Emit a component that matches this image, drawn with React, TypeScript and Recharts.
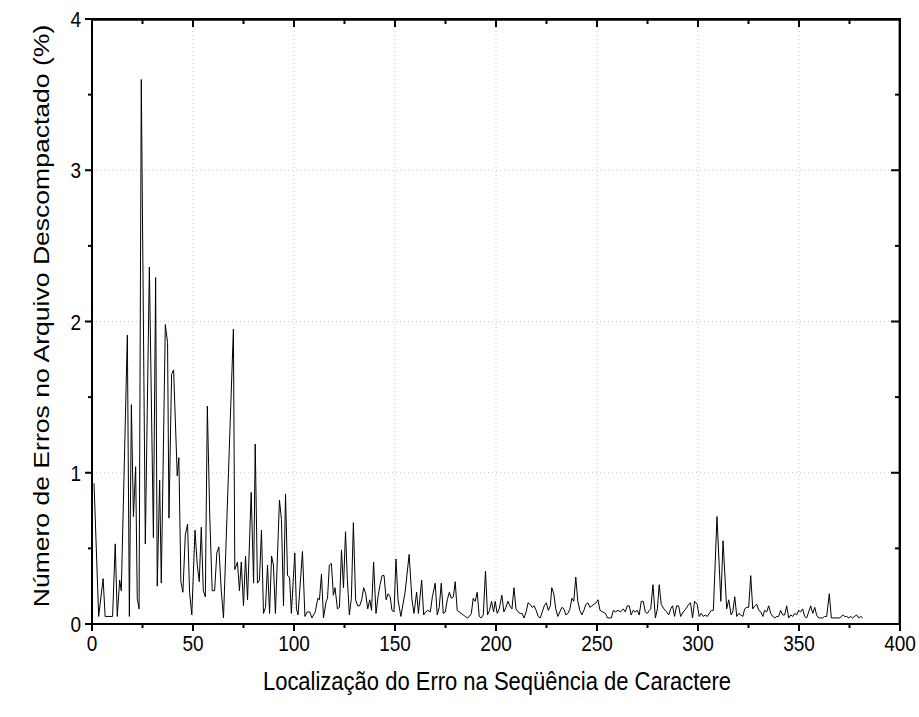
import { CartesianGrid, Line, LineChart, ReferenceLine, XAxis, YAxis } from 'recharts';

const FONT = '"Liberation Sans", Arial, sans-serif';
const STRETCH = 1.16; // the reference glyphs are taller than they are wide

const X_TICKS = [0, 25, 50, 75, 100, 125, 150, 175, 200, 225, 250, 275, 300, 325, 350, 375, 400];
const Y_TICKS = [0, 0.5, 1, 1.5, 2, 2.5, 3, 3.5, 4];
const GRID_X = [50, 100, 150, 200, 250, 300, 350];
const GRID_Y = [1, 2, 3];
const FRAME_X = [400];
const FRAME_Y = [4];

// [posição do erro, % de erros]
const SEG_0_50: [number, number][] = [
  [1, 0.93], [3.3, 0.05], [5.5, 0.3], [6.5, 0.05], [10.2, 0.05], [11.5, 0.53], [12.5, 0.05],
  [13.7, 0.29], [14.5, 0.22], [17.5, 1.91], [18.5, 0.05], [19.5, 1.45], [20.5, 0.71], [21.6, 1.04],
  [22.4, 0.17], [23.3, 0.1], [24.4, 3.6], [26.4, 0.53], [28.4, 2.36], [30.4, 0.57], [31.5, 2.29],
  [32.3, 0.25], [33.5, 0.95], [34.3, 0.27], [36.3, 1.98], [37.4, 1.86], [38.1, 0.7], [39.4, 1.65],
  [40.4, 1.68], [42.2, 0.98], [43, 1.1], [44, 0.28], [45, 0.21], [46.2, 0.59], [47.3, 0.66],
  [48.3, 0.21], [49.4, 0.06],
];

const SEG_50_100: [number, number][] = [
  [51, 0.62], [52.1, 0.39], [53.1, 0.28], [54.1, 0.64], [55.1, 0.22], [56.1, 0.18], [57.1, 1.44],
  [58.3, 0.71], [59.5, 0.22], [60.7, 0.22], [61.8, 0.47], [62.8, 0.51], [64, 0.22], [65.1, 0.04],
  [70, 1.95], [70.7, 0.36], [72, 0.41], [73, 0.22], [73.9, 0.41], [75, 0.12], [76, 0.45],
  [77, 0.16], [78.8, 0.87], [80, 0.27], [80.8, 1.19], [81.9, 0.27], [82.9, 0.29], [83.9, 0.62],
  [84.9, 0.07], [85.9, 0.11], [86.9, 0.39], [87.9, 0.07], [88.9, 0.45], [89.8, 0.39], [90.8, 0.07],
  [92.8, 0.82], [93.8, 0.69], [94.8, 0.12], [95.8, 0.86], [96.8, 0.32], [97.8, 0.31], [98.7, 0.07],
];

const SEG_100_150: [number, number][] = [
  [100.4, 0.47], [101.2, 0.1], [102, 0.06], [104.2, 0.48], [105.4, 0.05], [106.5, 0.08],
  [107.8, 0.08], [108.9, 0.04], [110.5, 0.08], [111.8, 0.17], [112.6, 0.16], [113.6, 0.33],
  [114.6, 0.04], [115.9, 0.15], [116.6, 0.17], [117.5, 0.39], [118.5, 0.4], [119.5, 0.19],
  [120.3, 0.24], [121.5, 0.1], [122.5, 0.11], [123.5, 0.49], [124.5, 0.24], [125.5, 0.61],
  [126.4, 0.3], [127.4, 0.06], [128.4, 0.17], [129.4, 0.67], [130.5, 0.16], [131.5, 0.12],
  [132.5, 0.12], [133.5, 0.16], [134.5, 0.24], [135.5, 0.2], [136.5, 0.1], [137.5, 0.16],
  [138.4, 0.09], [139.4, 0.41], [140.6, 0.07], [141.6, 0.18], [142.6, 0.26], [143.6, 0.32],
  [144.6, 0.32], [145.6, 0.16], [146.6, 0.2], [147.6, 0.18], [148.5, 0.09], [149.5, 0.08],
];

const SEG_150_200: [number, number][] = [
  [150.5, 0.43], [151.5, 0.16], [152.9, 0.05], [155, 0.21], [157, 0.46], [158.4, 0.16],
  [159.4, 0.07], [160.7, 0.21], [161.6, 0.07], [163.2, 0.29], [164.2, 0.06], [165.2, 0.08],
  [166.2, 0.09], [167.5, 0.08], [168.5, 0.18], [169.9, 0.27], [170.9, 0.06], [171.9, 0.11],
  [172.9, 0.27], [173.9, 0.07], [174.9, 0.08], [175.9, 0.16], [176.9, 0.21], [177.9, 0.17],
  [178.9, 0.18], [179.8, 0.28], [180.8, 0.09], [181.8, 0.08], [182.8, 0.07], [183.8, 0.06],
  [184.8, 0.05], [185.8, 0.04], [186.8, 0.05], [187.8, 0.07], [188.7, 0.17], [189.7, 0.15],
  [190.7, 0.21], [191.7, 0.05], [192.7, 0.04], [193.7, 0.06], [194.8, 0.35], [195.8, 0.06],
  [196.8, 0.09], [197.8, 0.15], [198.8, 0.08],
];

const SEG_200_250: [number, number][] = [
  [199.6, 0.15], [200.6, 0.07], [201.6, 0.1], [202.9, 0.19], [203.9, 0.08], [204.9, 0.11],
  [205.9, 0.15], [206.9, 0.12], [207.9, 0.1], [208.9, 0.24], [209.9, 0.1], [210.9, 0.08],
  [211.9, 0.07], [212.9, 0.07], [213.9, 0.04], [214.9, 0.08], [215.9, 0.14], [216.9, 0.13],
  [217.9, 0.11], [218.9, 0.12], [219.9, 0.09], [220.9, 0.05], [221.9, 0.04], [222.9, 0.08],
  [223.9, 0.12], [224.9, 0.14], [225.9, 0.09], [226.9, 0.12], [227.6, 0.24], [228.6, 0.2],
  [229.6, 0.1], [230.6, 0.05], [231.6, 0.08], [232.6, 0.11], [233.6, 0.1], [234.6, 0.06],
  [235.6, 0.07], [236.6, 0.1], [237.6, 0.17], [238.5, 0.15], [239.5, 0.31], [240.5, 0.15],
  [241.5, 0.09], [242.5, 0.06], [243.5, 0.09], [244.5, 0.13], [245.5, 0.14], [246.5, 0.11],
  [247.5, 0.12], [248.5, 0.13], [249.5, 0.14], [250.5, 0.16],
];

const SEG_250_307: [number, number][] = [
  [251.5, 0.09], [252.8, 0.08], [254.2, 0.07], [255.2, 0.04], [257.1, 0.04], [258.1, 0.09],
  [259.1, 0.08], [260.4, 0.09], [261.7, 0.08], [263, 0.1], [264, 0.08], [265, 0.12], [266, 0.12],
  [266.9, 0.06], [267.9, 0.09], [268.9, 0.08], [269.9, 0.09], [270.9, 0.06], [271.9, 0.15],
  [272.9, 0.15], [273.9, 0.08], [274.9, 0.07], [275.9, 0.09], [276.6, 0.1], [277.7, 0.26],
  [278.9, 0.04], [279.9, 0.1], [280.8, 0.26], [281.8, 0.13], [283.1, 0.1], [284.5, 0.08],
  [285.5, 0.06], [286.5, 0.1], [287.4, 0.12], [288.4, 0.05], [289.4, 0.12], [290.4, 0.12],
  [291.4, 0.05], [292.7, 0.08], [294, 0.1], [295.4, 0.13], [296.3, 0.14], [297.3, 0.04],
  [298.3, 0.15], [299.6, 0.13], [300.6, 0.05], [301.6, 0.07], [302.6, 0.05], [303.6, 0.06],
  [304.6, 0.05], [305.6, 0.07], [306.6, 0.09],
];

const SEG_307_382: [number, number][] = [
  [307.6, 0.09], [309.4, 0.71], [311.3, 0.15], [312.4, 0.55], [314.2, 0.1], [315.2, 0.16],
  [316.4, 0.06], [317.2, 0.08], [318.2, 0.18], [319.2, 0.05], [320.2, 0.07], [321.2, 0.06],
  [322.2, 0.05], [323.1, 0.1], [324.1, 0.11], [325.1, 0.11], [326.1, 0.32], [327.1, 0.1],
  [328.1, 0.12], [329.1, 0.13], [330.1, 0.09], [331.1, 0.08], [332.1, 0.05], [333, 0.09],
  [334, 0.08], [335, 0.12], [336, 0.07], [337, 0.05], [338, 0.04], [339, 0.05], [339.9, 0.05],
  [340.9, 0.09], [341.9, 0.06], [342.9, 0.06], [343.9, 0.12], [344.9, 0.04], [345.9, 0.06],
  [346.9, 0.05], [347.9, 0.07], [348.9, 0.06], [349.8, 0.09], [350.8, 0.08], [351.8, 0.1],
  [352.8, 0.05], [353.8, 0.04], [354.8, 0.08], [355.8, 0.12], [356.8, 0.07], [357.8, 0.11],
  [358.7, 0.06], [359.7, 0.04], [360.7, 0.04], [361.7, 0.04], [362.7, 0.05], [363.7, 0.05],
  [365, 0.2], [366, 0.04], [368.6, 0.04], [370.3, 0.04], [371.6, 0.06], [372.6, 0.05],
  [373.6, 0.05], [374.6, 0.04], [375.6, 0.05], [376.5, 0.04], [377.5, 0.05], [378.5, 0.06],
  [379.5, 0.04], [380.5, 0.05], [381.5, 0.04],
];

const DATA = [
  ...SEG_0_50,
  ...SEG_50_100,
  ...SEG_100_150,
  ...SEG_150_200,
  ...SEG_200_250,
  ...SEG_250_307,
  ...SEG_307_382,
].map(([pos, pct]) => ({ pos, pct }));

function BottomTick({ x, y, payload }: any) {
  const v = payload.value;
  const major = v % 50 === 0;
  return (
    <g>
      <line x1={x} x2={x} y1={y} y2={y + (major ? 7 : 4)} stroke="#000" strokeWidth={2} />
      {major && (
        <text
          transform={`translate(${x} ${y + 27}) scale(1 ${STRETCH})`}
          textAnchor="middle"
          fontSize={19}
          fontFamily={FONT}
          fill="#000"
        >
          {v}
        </text>
      )}
    </g>
  );
}

function TopTick({ x, y, payload }: any) {
  const major = payload.value % 50 === 0;
  return <line x1={x} x2={x} y1={y} y2={y + (major ? 8 : 5)} stroke="#000" strokeWidth={2} />;
}

function LeftTick({ x, y, payload }: any) {
  const v = payload.value;
  const major = v % 1 === 0;
  return (
    <g>
      <line x1={x - (major ? 7 : 4)} x2={x} y1={y} y2={y} stroke="#000" strokeWidth={2} />
      {major && (
        <text
          transform={`translate(${x - 11} ${y + 8}) scale(1 ${STRETCH})`}
          textAnchor="end"
          fontSize={19}
          fontFamily={FONT}
          fill="#000"
        >
          {v}
        </text>
      )}
    </g>
  );
}

function RightTick({ x, y, payload }: any) {
  const major = payload.value % 1 === 0;
  return <line x1={x - (major ? 9 : 5)} x2={x} y1={y} y2={y} stroke="#000" strokeWidth={2} />;
}

function XTitle() {
  return (
    <text
      transform={`translate(497 690) scale(1 ${STRETCH})`}
      textAnchor="middle"
      fontSize={22}
      fontFamily={FONT}
      fill="#000"
    >
      Localização do Erro na Seqüência de Caractere
    </text>
  );
}

function YTitle() {
  return (
    <text
      transform={`translate(49 316) scale(1 ${STRETCH + 0.02}) rotate(-90)`}
      textAnchor="middle"
      fontSize={22.5}
      fontFamily={FONT}
      fill="#000"
    >
      Número de Erros no Arquivo Descompactado (%)
    </text>
  );
}

export default function App() {
  const axisLine = { stroke: '#000', strokeWidth: 2 };
  return (
    <div style={{ position: 'absolute', left: 0, top: 0, width: 919, height: 717, background: '#fff' }}>
      <LineChart width={919} height={717} data={DATA} margin={{ top: 18, right: 18, bottom: 0, left: 0 }}>
        <CartesianGrid
          stroke="#c4c4c4"
          strokeDasharray="1 3"
          horizontalValues={GRID_Y}
          verticalValues={GRID_X}
        />
        {/* solid top and right edges of the frame */}
        <CartesianGrid
          stroke="#000"
          strokeWidth={2}
          horizontalValues={FRAME_Y}
          verticalValues={FRAME_X}
        />
        <XAxis
          dataKey="pos"
          type="number"
          domain={[0, 400]}
          ticks={X_TICKS}
          interval={0}
          height={93}
          tickSize={0}
          tickMargin={0}
          tickLine={false}
          axisLine={axisLine}
          tick={<BottomTick />}
          label={<XTitle />}
        />
        <XAxis
          xAxisId="top"
          dataKey="pos"
          orientation="top"
          type="number"
          domain={[0, 400]}
          ticks={X_TICKS}
          interval={0}
          height={1}
          tickSize={0}
          tickMargin={0}
          tickLine={false}
          axisLine={axisLine}
          tick={<TopTick />}
        />
        <YAxis
          type="number"
          domain={[0, 4]}
          ticks={Y_TICKS}
          interval={0}
          width={92}
          tickSize={0}
          tickMargin={0}
          tickLine={false}
          axisLine={axisLine}
          tick={<LeftTick />}
          label={<YTitle />}
        />
        <YAxis
          yAxisId="right"
          orientation="right"
          type="number"
          domain={[0, 4]}
          ticks={Y_TICKS}
          interval={0}
          width={1}
          tickSize={0}
          tickMargin={0}
          tickLine={false}
          axisLine={axisLine}
          tick={<RightTick />}
        />
        <ReferenceLine y={3.995} stroke="#000" strokeWidth={2} ifOverflow="visible" />
        <ReferenceLine x={399.8} stroke="#000" strokeWidth={2} ifOverflow="visible" />
        <Line
          type="linear"
          dataKey="pct"
          stroke="#000"
          strokeWidth={1}
          dot={false}
          isAnimationActive={false}
        />
        <Line
          xAxisId="top"
          yAxisId="right"
          type="linear"
          dataKey="pct"
          stroke="none"
          dot={false}
          activeDot={false}
          isAnimationActive={false}
        />
      </LineChart>
      <div
        style={{
          position: 'absolute',
          left: 91,
          top: 18,
          width: 810,
          height: 607,
          boxSizing: 'border-box',
          borderTop: '2px solid #000',
          borderRight: '2px solid #000',
          pointerEvents: 'none',
        }}
      />
    </div>
  );
}
